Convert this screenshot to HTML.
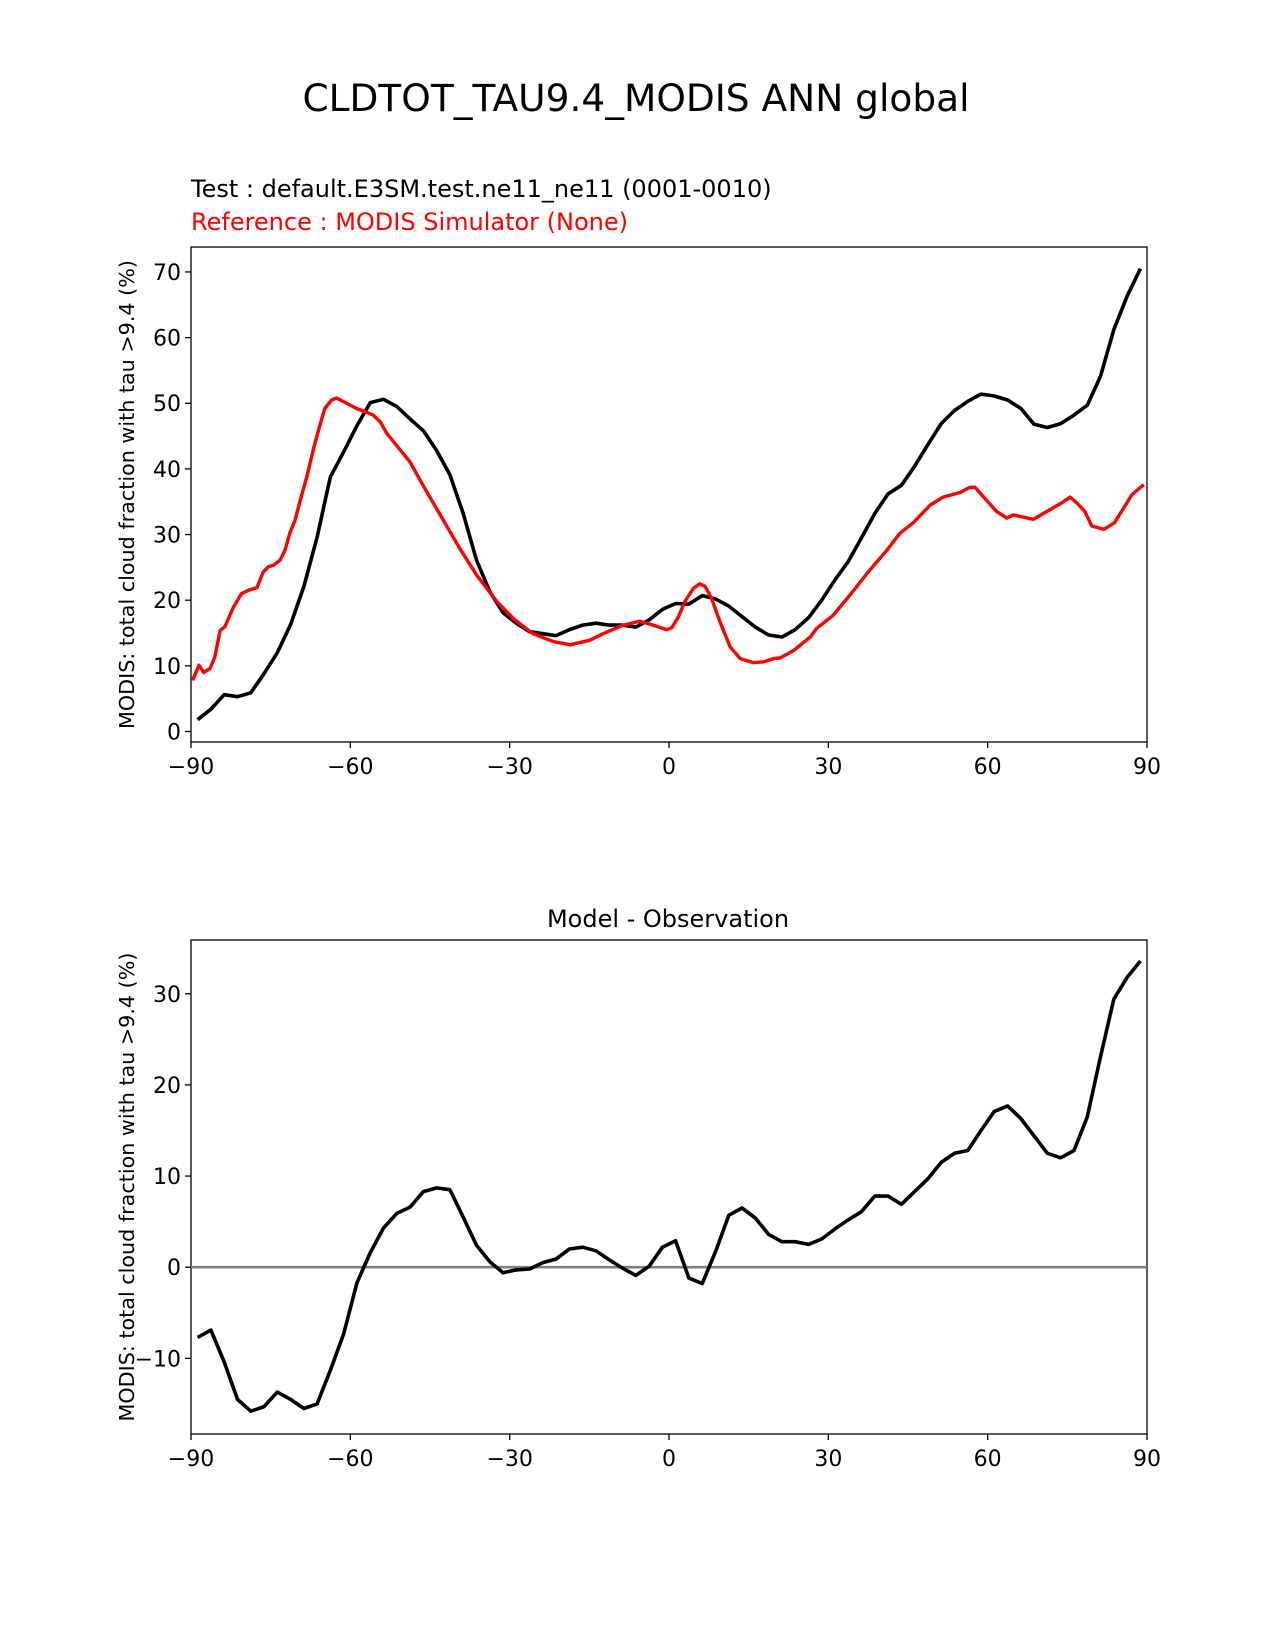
<!DOCTYPE html>
<html><head><meta charset="utf-8"><style>
body{margin:0;background:#fff}
svg{display:block;font-family:"DejaVu Sans","Liberation Sans",sans-serif}
</style></head><body>
<svg id="fig" width="1275" height="1650">
<text x="636" y="111" font-size="37.5" text-anchor="middle">CLDTOT_TAU9.4_MODIS ANN global</text>
<text x="191" y="197" font-size="24">Test : default.E3SM.test.ne11_ne11 (0001-0010)</text>
<text x="191" y="230" font-size="24" fill="#f00">Reference : MODIS Simulator (None)</text>
<text x="668" y="927" font-size="24" text-anchor="middle">Model - Observation</text>
</svg>
<script>
const lats = [];
for (let i = 0; i < 72; i++) lats.push(-88.75 + 2.5 * i);
const testVals = [1.8,3.4,5.6,5.3,5.9,8.8,12.0,16.3,22.1,29.6,38.8,42.6,46.6,50.1,50.6,49.5,47.6,45.8,42.8,39.1,33.2,26.1,21.3,18.1,16.5,15.2,14.9,14.6,15.5,16.2,16.5,16.2,16.2,15.9,17.0,18.6,19.5,19.4,20.7,20.2,19.1,17.5,15.9,14.7,14.4,15.5,17.3,20.0,23.1,25.9,29.5,33.2,36.2,37.5,40.4,43.7,46.9,48.9,50.3,51.4,51.1,50.5,49.2,46.8,46.3,46.9,48.2,49.7,54.1,61.2,66.3,70.5];
const refLats = [-89.7,-88.5,-87.6,-86.4,-85.5,-84.5,-83.6,-82.1,-80.5,-79.2,-77.6,-76.4,-75.4,-74.5,-73.2,-72.3,-71.4,-70.4,-69.5,-68.2,-67.0,-66.0,-64.8,-63.5,-62.6,-60.7,-58.8,-56.9,-55.7,-54.4,-53.2,-51.3,-48.8,-45.6,-42.5,-39.4,-36.2,-32.4,-29.3,-25.6,-21.8,-18.6,-14.9,-12.4,-8.6,-5.5,-3.0,-0.4,0.5,1.8,3.0,4.6,5.8,6.8,8.0,9.6,11.5,13.4,15.9,17.8,19.7,20.9,23.4,26.6,27.8,30.9,34.1,37.8,41.0,43.5,46.0,49.2,51.6,54.8,56.7,57.6,61.7,63.6,64.8,68.6,71.1,73.9,75.5,76.8,78.3,79.6,81.9,83.9,85.5,87.2,89.4];
const refVals = [7.8,10.1,9.0,9.6,11.4,15.4,16.0,18.8,21.0,21.5,21.9,24.3,25.1,25.3,26.1,27.6,30.2,32.2,35.0,38.8,42.9,45.9,49.2,50.5,50.8,50.0,49.2,48.6,48.2,47.2,45.5,43.6,41.1,36.5,32.2,27.9,23.8,19.8,17.2,14.9,13.7,13.2,13.9,14.9,16.2,16.8,16.2,15.5,15.8,17.5,19.8,21.8,22.5,22.1,20.3,16.7,12.9,11.1,10.5,10.6,11.1,11.2,12.3,14.4,15.7,17.7,20.8,24.6,27.6,30.2,31.8,34.5,35.7,36.4,37.2,37.2,33.5,32.5,33.0,32.3,33.5,34.8,35.7,34.8,33.5,31.3,30.8,31.8,33.9,36.1,37.6];
const diffVals = [-7.7,-6.9,-10.4,-14.5,-15.8,-15.3,-13.7,-14.5,-15.5,-15.0,-11.3,-7.3,-1.7,1.6,4.3,5.9,6.6,8.3,8.7,8.5,5.5,2.4,0.6,-0.6,-0.3,-0.2,0.5,0.9,2.0,2.2,1.8,0.8,-0.1,-0.9,0.1,2.2,2.9,-1.2,-1.8,1.7,5.7,6.5,5.4,3.6,2.8,2.8,2.5,3.1,4.2,5.2,6.1,7.8,7.8,6.9,8.3,9.7,11.5,12.5,12.8,15.0,17.1,17.7,16.3,14.4,12.5,12.0,12.8,16.5,23.1,29.4,31.8,33.6];
const xTicks = [-90,-60,-30,0,30,60,90];
const xTickLabels = ["\u221290","\u221260","\u221230","0","30","60","90"];
const topYTicks = [0,10,20,30,40,50,60,70];
const botYTicks = [-10,0,10,20,30];
const botYTickLabels = ["\u221210","0","10","20","30"];

const NS = "http://www.w3.org/2000/svg";
const svg = document.getElementById('fig');
const L = 191, R = 1147;
const X = v => L + (v + 90) / 180 * (R - L);
function mk(tag, attrs){const e=document.createElementNS(NS,tag);for(const k in attrs)e.setAttribute(k,attrs[k]);svg.appendChild(e);return e;}

function panel(name, top, bot, ymin, ymax, yTicks, yLabels){
  const Y = v => bot - (v - ymin) / (ymax - ymin) * (bot - top);
  const fr = mk('rect',{x:L,y:top,width:R-L,height:bot-top,fill:'none',stroke:'#000','stroke-width':1.3});
  
  
  xTicks.forEach((t,i)=>{
    const ln = mk('line',{x1:X(t),x2:X(t),y1:bot,y2:bot+6,stroke:'#000','stroke-width':1.3});
    
    
    const tx = mk('text',{x:X(t),y:bot+32,'font-size':22,'text-anchor':'middle'});
    tx.textContent = xTickLabels[i];
    
    
  });
  yTicks.forEach((t,i)=>{
    const ln = mk('line',{x1:L-6,x2:L,y1:Y(t),y2:Y(t),stroke:'#000','stroke-width':1.3});
    
    
    const tx = mk('text',{x:L-10,y:Y(t)+8,'font-size':22,'text-anchor':'end'});
    tx.textContent = yLabels ? yLabels[i] : String(t);
    
    
  });
  const cy = (top+bot)/2;
  const yl = mk('text',{x:0,y:0,'font-size':20.7,'text-anchor':'middle',transform:`translate(134,${cy}) rotate(-90)`});
  yl.textContent = 'MODIS: total cloud fraction with tau >9.4 (%)';
  
  
  return Y;
}
function line(xs, ys, Y, color, w, nm){
  const d = xs.map((x,i)=>(i?'L':'M')+X(x).toFixed(1)+' '+Y(ys[i]).toFixed(1)).join(' ');
  const p = mk('path',{d:d,fill:'none',stroke:color,'stroke-width':w,'stroke-linejoin':'round'});
  
  
}
const Yt = panel('top-panel', 247, 742, -1.6, 73.8, topYTicks, null);
line(lats, testVals, Yt, '#000', 3.6, 'test-series-line');
line(refLats, refVals, Yt, '#f00', 3.4, 'reference-series-line');
const Yb = panel('diff-panel', 940, 1434, -18.3, 35.9, botYTicks, botYTickLabels);
const z = mk('line',{x1:L,x2:R,y1:Yb(0),y2:Yb(0),stroke:'#808080','stroke-width':2.6});


line(lats, diffVals, Yb, '#000', 3.6, 'difference-series-line');
</script>
</body></html>
